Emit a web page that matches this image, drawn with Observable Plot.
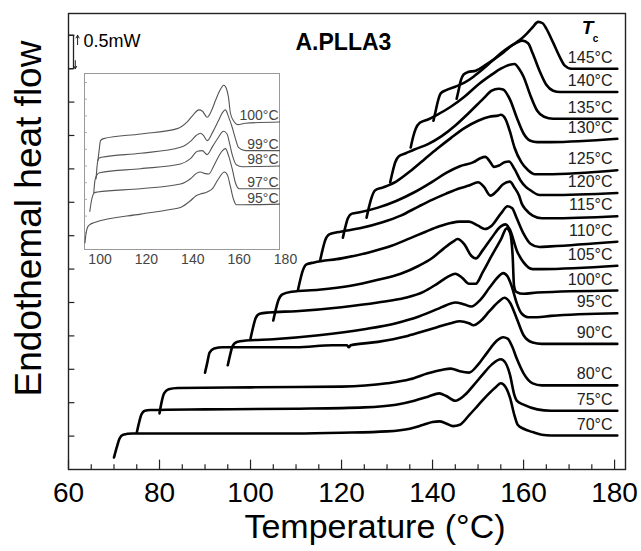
<!DOCTYPE html>
<html><head><meta charset="utf-8">
<script src="https://cdn.jsdelivr.net/npm/d3@7"></script>
<script src="https://cdn.jsdelivr.net/npm/@observablehq/plot@0.6"></script>
<style>
body{margin:0;background:#fff;}
#wrap{position:relative;width:641px;height:551px;}
#inset{position:absolute;left:76px;top:65px;}
</style></head><body>
<div id="wrap"><div id="main"></div><div id="inset"></div></div>
<script>
const FONT = "Liberation Sans, Arial, Helvetica, sans-serif";

// ---- main chart: [temperature °C, heat flow mW (offset)] ----
const c70 = [[70,0.18],[70.6,0.33],[71.2,0.46],[72,0.52],[74,0.54],[90,0.54],[110,0.54],[120,0.55],[130,0.57],[135,0.61],[138,0.67],[140,0.71],[141.5,0.72],[143,0.69],[144.5,0.65],[146,0.67],[148,0.81],[150,0.96],[152,1.11],[154,1.24],[155,1.29],[156,1.24],[157,1.08],[158,0.81],[158.7,0.67],[160,0.61],[162,0.56],[164,0.52],[166,0.51],[180.6,0.51]];
const c75 = [[75,0.55],[75.5,0.70],[76,0.82],[76.8,0.88],[78,0.89],[90,0.90],[110,0.91],[125,0.93],[132,0.97],[136,1.03],[139,1.09],[141.5,1.14],[143,1.10],[145,1.03],[147,1.11],[149,1.26],[151,1.42],[153,1.57],[155,1.65],[156,1.60],[157,1.42],[158,1.11],[158.5,1.03],[160,0.97],[163,0.90],[166,0.88],[180.6,0.88]];
const c80 = [[80,0.84],[80.4,0.99],[81,1.14],[82,1.20],[84,1.22],[100,1.23],[120,1.24],[130,1.29],[135,1.35],[139,1.44],[142,1.49],[144,1.51],[146,1.47],[148,1.45],[150,1.57],[152,1.75],[154,1.92],[155.5,1.98],[156.5,1.96],[157.5,1.84],[158.5,1.66],[160,1.44],[162,1.29],[164,1.26],[180.6,1.26]];
const c90 = [[90,1.45],[90.5,1.60],[91,1.75],[92,1.81],[94,1.83],[110,1.83],[118,1.86],[121.2,1.86],[121.6,1.83],[122,1.86],[128,1.91],[134,1.99],[138,2.07],[141,2.13],[144,2.19],[146,2.22],[148,2.19],[149,2.16],[150.5,2.22],[152.5,2.37],[154.5,2.51],[155.8,2.57],[157,2.50],[158.5,2.26],[160,2.01],[162,1.90],[164,1.88],[180.6,1.88]];
const c95 = [[95,1.56],[95.5,1.71],[96,1.84],[97,1.91],[99,1.93],[105,1.95],[115,2.01],[125,2.10],[132,2.19],[137,2.29],[141,2.40],[143,2.46],[145,2.50],[147,2.47],[148.5,2.44],[150.5,2.54],[152.5,2.72],[154.5,2.89],[155.5,2.94],[156.5,2.89],[157.5,2.72],[158.5,2.49],[159.5,2.34],[161,2.28],[163,2.28],[166,2.30],[180.6,2.34]];
const c100 = [[100,1.96],[100.5,2.11],[101.1,2.26],[102,2.33],[104,2.35],[110,2.37],[120,2.43],[128,2.50],[134,2.57],[138,2.66],[141,2.78],[143.5,2.89],[145,2.93],[146.5,2.87],[148,2.78],[149.5,2.78],[151,2.95],[153,3.20],[155,3.44],[156.3,3.61],[157,3.55],[157.6,3.20],[157.9,2.75],[158.4,2.66],[160,2.63],[163,2.65],[180.6,2.68]];
const c105 = [[105,2.23],[105.5,2.38],[106.1,2.53],[107,2.62],[109,2.66],[115,2.69],[122,2.75],[128,2.84],[133,2.93],[137,3.05],[140,3.17],[142.5,3.31],[144.5,3.41],[145.5,3.45],[147,3.37],[148.5,3.20],[149.5,3.16],[151,3.28],[153,3.47],[155,3.64],[156,3.67],[157,3.59],[158.5,3.28],[160,3.10],[162,3.00],[164,3.00],[180.6,3.05]];
const c110 = [[110.4,2.68],[110.9,2.83],[111.5,2.98],[112.3,3.07],[114,3.10],[120,3.16],[126,3.25],[131,3.35],[135,3.46],[138.5,3.56],[141.5,3.64],[144,3.69],[146,3.71],[148,3.71],[150,3.65],[151.5,3.60],[153,3.65],[155,3.83],[156.5,3.94],[157.5,3.91],[158.5,3.76],[160,3.53],[161.5,3.38],[163.5,3.33],[166,3.34],[180.6,3.41]];
const c115 = [[115.3,3.13],[115.8,3.28],[116.4,3.43],[117.3,3.52],[119,3.55],[124,3.61],[129,3.70],[133,3.80],[137,3.94],[140,4.04],[143,4.13],[146,4.21],[148,4.25],[150,4.30],[151.3,4.23],[152.7,4.10],[154,4.16],[155.5,4.27],[157,4.31],[158,4.22],[159,4.10],[159.6,3.98],[160.5,3.89],[162,3.80],[164,3.76],[166,3.76],[180.6,3.79]];
const c120 = [[120.3,3.47],[120.8,3.62],[121.4,3.76],[122.3,3.83],[124,3.85],[128,3.92],[132,4.02],[136,4.15],[140,4.31],[143,4.44],[146,4.54],[149,4.60],[150.5,4.66],[151.6,4.68],[152.6,4.61],[153.5,4.53],[154.6,4.55],[155.8,4.60],[156.8,4.61],[158,4.50],[159.3,4.33],[160.5,4.23],[161.5,4.18],[163.5,4.11],[166,4.11],[180.6,4.14]];
const c125 = [[125.5,3.77],[126,3.92],[126.6,4.07],[127.4,4.18],[129,4.22],[132,4.31],[135,4.46],[138,4.63],[141,4.80],[144,4.96],[147,5.11],[150,5.22],[152.5,5.28],[154.5,5.30],[155,5.31],[156,5.25],[157,5.06],[158,4.82],[159.5,4.60],[161,4.48],[162.5,4.42],[165,4.42],[180.6,4.48]];
const c130 = [[130.7,4.30],[131.2,4.45],[131.8,4.60],[132.6,4.69],[134,4.73],[136,4.79],[139,4.87],[142,4.99],[145,5.15],[148,5.34],[151,5.54],[153,5.67],[154.5,5.70],[155.5,5.69],[157,5.54],[158.5,5.27],[160,5.03],[161.5,4.92],[163,4.90],[166,4.90],[180.6,4.95]];
const c135 = [[135.2,4.82],[135.7,4.97],[136.3,5.10],[137.2,5.19],[139,5.24],[141,5.31],[144,5.43],[147,5.58],[150,5.76],[153,5.91],[155,6.00],[157,6.06],[158,6.07],[159,6.00],[160,5.88],[161.5,5.60],[163,5.37],[164.5,5.28],[166.5,5.25],[180.6,5.25]];
const c140 = [[140.2,5.22],[140.7,5.37],[141.2,5.52],[141.8,5.63],[143,5.68],[145,5.73],[147,5.79],[149,5.88],[151,5.99],[153,6.11],[155,6.23],[157,6.33],[158.5,6.39],[159.7,6.42],[161,6.38],[162,6.23],[163.5,5.97],[165,5.76],[166.5,5.67],[168,5.65],[180.6,5.65]];
const c145 = [[145.3,5.55],[145.7,5.67],[146.2,5.82],[146.8,5.91],[147.8,5.95],[149.5,5.97],[151.5,6.05],[153.5,6.14],[155.5,6.24],[157.5,6.35],[159,6.42],[160.5,6.51],[162,6.62],[163.2,6.70],[164.2,6.68],[165,6.60],[166.5,6.39],[168,6.17],[169,6.05],[170.5,6.00],[180.6,6.00]];

const mainTc = [70,75,80,90,95,100,105,110,115,120,125,130,135,140,145];
const mainSeries = [c70,c75,c80,c90,c95,c100,c105,c110,c115,c120,c125,c130,c135,c140,c145];

const xMajorTicks = [60,80,100,120,140,160,180];
const xMinorTicks = [65,70,75,85,90,95,105,110,115,125,130,135,145,150,155,165,170,175];
const yTicks = [0.5,1,1.5,2,2.5,3,3.5,4,4.5,5,5.5,6,6.5];
const scaleBarLow = 6.0, scaleBarHigh = 6.5; // 0.5 mW

// ---- inset: [temperature °C, heat flow (offset)] ----
const i95 = [[93.5,0.10],[94.0,0.25],[94.6,0.33],[95.5,0.37],[97.3,0.40],[117.5,0.53],[130.4,0.60],[134.7,0.63],[139.0,0.73],[141.6,0.81],[143.3,0.83],[146.2,0.86],[148.5,0.91],[151.1,1.06],[153.7,1.16],[155.0,1.11],[156.25,0.94],[157.5,0.76],[158.8,0.67],[161.4,0.67],[177.4,0.68]];
const i97 = [[95.6,0.57],[96.3,0.73],[97.6,0.85],[98.9,0.86],[117.5,0.91],[134.7,0.98],[139.0,1.06],[141.6,1.14],[143.3,1.16],[145.0,1.14],[146.9,1.13],[148.9,1.24],[151.1,1.39],[152.8,1.48],[154.1,1.51],[155.4,1.41],[157.0,1.21],[158.4,1.00],[160.1,0.91],[162.7,0.91],[177.4,0.91]];
const i98 = [[97.3,0.85],[97.8,1.03],[98.7,1.12],[99.8,1.15],[117.5,1.21],[134.7,1.28],[139.0,1.36],[142.0,1.47],[144.1,1.48],[146.2,1.42],[148.5,1.54],[151.1,1.68],[153.2,1.77],[154.8,1.73],[155.8,1.60],[157.1,1.41],[158.8,1.27],[161.4,1.24],[177.4,1.25]];
const i99 = [[98.3,1.06],[98.7,1.24],[99.35,1.36],[100.6,1.38],[117.5,1.44],[134.7,1.53],[139.0,1.62],[141.6,1.71],[143.3,1.74],[144.6,1.71],[146.2,1.63],[148.5,1.75],[151.1,1.93],[152.8,2.05],[154.1,2.09],[155.4,1.99],[157.0,1.83],[158.4,1.66],[159.7,1.53],[162.7,1.48],[177.4,1.48]];
const i100 = [[99.1,1.33],[99.6,1.48],[100.2,1.63],[101.5,1.66],[117.5,1.73],[133.3,1.81],[137.6,1.91],[140.3,2.02],[142.6,2.09],[144.2,2.07],[146.2,1.98],[148.1,2.08],[149.8,2.23],[151.5,2.37],[153.4,2.46],[154.5,2.41],[155.4,2.28],[156.25,2.04],[157.7,1.92],[159.3,1.87],[162.7,1.89],[177.4,1.91]];
const insetTc = [95,97,98,99,100];
const insetSeries = [i95,i97,i98,i99,i100];
const insetXTicks = [100,120,140,160,180];
const insetYTicks = [0.25,0.5,0.75,1,1.25,1.5,1.75,2,2.25,2.5];

// ---- build tables ----
const mainRows = mainTc.flatMap((tc, k) => mainSeries[k].map(([T, hf]) => ({tc, T, hf})));
const mainLabels = mainTc.map((tc, k) => ({hf: mainSeries[k][mainSeries[k].length - 1][1], label: `${tc}°C`}));
const insetRows = insetTc.flatMap((tc, k) => insetSeries[k].map(([T, hf]) => ({tc, T, hf})));
const insetLabels = insetTc.map((tc, k) => ({hf: insetSeries[k][insetSeries[k].length - 1][1], label: `${tc}°C`}));

const main = Plot.plot({
  width: 641, height: 551,
  marginLeft: 68, marginRight: 16, marginTop: 13, marginBottom: 82,
  style: {fontFamily: FONT, background: "white", color: "black", overflow: "visible"},
  x: {domain: [60, 182.4], label: null},
  y: {domain: [0, 6.826], axis: null},
  marks: [
    Plot.frame({stroke: "#222", strokeWidth: 1.4}),
    Plot.ruleX(xMinorTicks, {y1: 0, y2: 0.07, stroke: "#222", strokeWidth: 1.2}),
    Plot.ruleX(xMajorTicks, {y1: 0, y2: 0.14, stroke: "#222", strokeWidth: 1.2}),
    Plot.ruleY(yTicks, {x1: 60, x2: 61.4, stroke: "#222", strokeWidth: 1.2}),
    Plot.axisX({ticks: xMajorTicks, tickSize: 0, tickPadding: 13, fontSize: 28, label: null, tickFormat: d => d}),
    Plot.text(["Temperature (°C)"], {frameAnchor: "bottom", dx: 28, dy: 58, textAnchor: "middle", lineAnchor: "middle", fontSize: 34}),
    Plot.text(["Endothemal heat flow"], {frameAnchor: "left", dx: -39, dy: -23, rotate: -90, textAnchor: "middle", lineAnchor: "middle", fontSize: 37}),
    Plot.line(mainRows, {x: "T", y: "hf", z: "tc", stroke: "#000", strokeWidth: 2.6, curve: "monotone-x", strokeLinejoin: "round"}),
    Plot.text(mainLabels, {y: "hf", text: "label", frameAnchor: "right", dx: -13, dy: -11, textAnchor: "end", lineAnchor: "middle", fontSize: 16, fill: "#222"}),
    Plot.text(["A.PLLA3"], {frameAnchor: "top-left", dx: 227, dy: 29, textAnchor: "start", lineAnchor: "middle", fontSize: 23, fontWeight: "bold"}),
    Plot.text(["0.5mW"], {frameAnchor: "top-left", dx: 15, dy: 28, textAnchor: "start", lineAnchor: "middle", fontSize: 18}),
    Plot.text(["T"], {frameAnchor: "top-right", dx: -38, dy: 14, textAnchor: "middle", lineAnchor: "middle", fontSize: 19, fontWeight: "bold", fontStyle: "italic"}),
    Plot.text(["c"], {frameAnchor: "top-right", dx: -30, dy: 25, textAnchor: "middle", lineAnchor: "middle", fontSize: 10, fontWeight: "bold"}),
    Plot.ruleX([61.1], {y1: scaleBarLow, y2: scaleBarHigh, stroke: "#222", strokeWidth: 1.3}),
    Plot.ruleY([scaleBarLow, scaleBarHigh], {x1: 60, x2: 61.1, stroke: "#222", strokeWidth: 1.3}),
    Plot.arrow([0], {x1: 62.0, x2: 62.0, y1: 6.36, y2: scaleBarHigh, headLength: 5, stroke: "#222", strokeWidth: 1}),
    Plot.arrow([0], {x1: 61.5, x2: 61.5, y1: 6.12, y2: scaleBarLow, headLength: 4, stroke: "#222", strokeWidth: 1})
  ]
});
document.getElementById("main").appendChild(main);

const inset = Plot.plot({
  width: 224, height: 205,
  marginLeft: 8, marginRight: 15, marginTop: 8, marginBottom: 21,
  style: {fontFamily: FONT, background: "transparent", color: "#444", overflow: "visible"},
  x: {domain: [93.3, 180], label: null},
  y: {domain: [0, 2.635], axis: null},
  marks: [
    Plot.frame({stroke: "#999", strokeWidth: 1, insetRight: 6, fill: "white"}),
    Plot.ruleY(insetYTicks, {x1: 93.3, x2: 94.6, stroke: "#aaa"}),
    Plot.axisX({ticks: insetXTicks, tickSize: 0, tickPadding: 5, fontSize: 14, label: null, fill: "#444", tickFormat: d => d}),
    Plot.line(insetRows, {x: "T", y: "hf", z: "tc", stroke: "#555", strokeWidth: 1.1, curve: "monotone-x"}),
    Plot.text(insetLabels, {y: "hf", text: "label", frameAnchor: "right", dx: -7, dy: -6, textAnchor: "end", lineAnchor: "middle", fontSize: 14, fill: "#444"})
  ]
});
document.getElementById("inset").appendChild(inset);
</script>
</body></html>
